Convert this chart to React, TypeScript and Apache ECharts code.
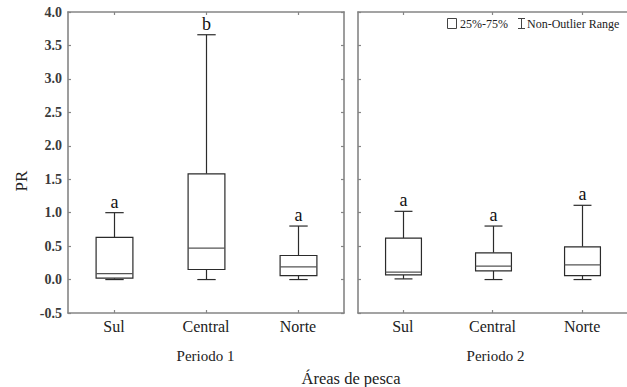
import React, { useEffect, useRef } from "react";
import * as echarts from "echarts";

// Fishing areas shown in each period panel
const categories = ["Sul", "Central", "Norte"];

// Period 1 box statistics: whisker low, Q1, median, Q3, whisker high
const p1Low = [0.0, 0.0, 0.0];
const p1Q1 = [0.02, 0.15, 0.06];
const p1Median = [0.09, 0.47, 0.19];
const p1Q3 = [0.63, 1.58, 0.36];
const p1High = [1.0, 3.66, 0.8];
const p1Letters = ["a", "b", "a"];

// Period 2 box statistics
const p2Low = [0.01, 0.0, 0.0];
const p2Q1 = [0.07, 0.13, 0.06];
const p2Median = [0.11, 0.2, 0.22];
const p2Q3 = [0.62, 0.4, 0.49];
const p2High = [1.02, 0.8, 1.11];
const p2Letters = ["a", "a", "a"];

const yTicks = { min: -0.5, max: 4.0, interval: 0.5 };

const FONT = "'Liberation Serif', 'DejaVu Serif', serif";
const FRAME = "#858585";
const INK = "#2b2b2b";

const buildRows = (lo: number[], q1: number[], med: number[], q3: number[], hi: number[]) =>
  categories.map((_, i) => [i, lo[i], q1[i], med[i], q3[i], hi[i]]);

const makeRenderer = (letters: string[]) => (params: any, api: any) => {
  const idx = api.value(0);
  const lo = api.coord([idx, api.value(1)]);
  const q1 = api.coord([idx, api.value(2)]);
  const med = api.coord([idx, api.value(3)]);
  const q3 = api.coord([idx, api.value(4)]);
  const hi = api.coord([idx, api.value(5)]);
  const band = api.size([1, 0])[0];
  const bw = band * 0.4;
  const cw = band * 0.2;
  const x = Math.round(lo[0]) + 0.5;
  const stroke = { stroke: INK, lineWidth: 1.2, fill: "none" };
  return {
    type: "group",
    children: [
      { type: "line", shape: { x1: x, y1: hi[1], x2: x, y2: q3[1] }, style: stroke },
      { type: "line", shape: { x1: x, y1: q1[1], x2: x, y2: lo[1] }, style: stroke },
      { type: "line", shape: { x1: x - cw / 2, y1: hi[1], x2: x + cw / 2, y2: hi[1] }, style: stroke },
      { type: "line", shape: { x1: x - cw / 2, y1: lo[1], x2: x + cw / 2, y2: lo[1] }, style: stroke },
      {
        type: "rect",
        shape: { x: x - bw / 2, y: q3[1], width: bw, height: q1[1] - q3[1] },
        style: { stroke: INK, lineWidth: 1.2, fill: "#ffffff" },
      },
      {
        type: "line",
        shape: { x1: x - bw / 2, y1: med[1], x2: x + bw / 2, y2: med[1] },
        style: { stroke: "#555555", lineWidth: 1.2 },
      },
      {
        type: "text",
        x: x,
        y: hi[1] - 2,
        style: {
          text: letters[idx],
          fontFamily: FONT,
          fontSize: 18,
          fill: "#111111",
          align: "center",
          verticalAlign: "bottom",
        },
      },
    ],
  };
};

const xAxisFor = (gridIndex: number, position: "top" | "bottom", labels: boolean) => ({
  type: "category",
  gridIndex,
  position,
  data: categories,
  boundaryGap: true,
  axisLine: { show: true, onZero: false, lineStyle: { color: FRAME, width: 1.6 } },
  axisTick: { show: true, inside: true, alignWithLabel: true, length: 3, lineStyle: { color: FRAME, width: 1.2 } },
  axisLabel: {
    show: labels,
    fontFamily: FONT,
    fontSize: 16,
    color: "#222222",
    margin: 5,
  },
  splitLine: { show: false },
});

const yAxisFor = (gridIndex: number, position: "left" | "right", labels: boolean) => ({
  type: "value",
  gridIndex,
  position,
  min: yTicks.min,
  max: yTicks.max,
  interval: yTicks.interval,
  axisLine: { show: true, onZero: false, lineStyle: { color: FRAME, width: 1.6 } },
  axisTick: { show: true, inside: true, length: 3, lineStyle: { color: FRAME, width: 1.2 } },
  axisLabel: {
    show: labels,
    fontFamily: FONT,
    fontSize: 14,
    fontWeight: "bold",
    color: "#3a3a3a",
    margin: 6,
    formatter: (v: number) => v.toFixed(1),
  },
  splitLine: { show: false },
});

export default function App() {
  const ref = useRef<HTMLDivElement>(null);

  useEffect(() => {
    if (!ref.current) return;
    const chart = echarts.init(ref.current, undefined, { renderer: "svg" });
    chart.setOption({
      animation: false,
      backgroundColor: "#ffffff",
      grid: [
        { left: 68, top: 12, width: 276, height: 301 },
        { left: 358, top: 12, width: 276, height: 301 },
      ],
      xAxis: [
        xAxisFor(0, "bottom", true),
        xAxisFor(0, "top", false),
        xAxisFor(1, "bottom", true),
        xAxisFor(1, "top", false),
      ],
      yAxis: [yAxisFor(0, "left", true), yAxisFor(0, "right", false), yAxisFor(1, "left", false)],
      series: [
        {
          type: "custom",
          name: "Periodo 1",
          xAxisIndex: 0,
          yAxisIndex: 0,
          encode: { x: 0, y: [1, 2, 3, 4, 5] },
          renderItem: makeRenderer(p1Letters),
          data: buildRows(p1Low, p1Q1, p1Median, p1Q3, p1High),
          z: 5,
        },
        {
          type: "custom",
          name: "Periodo 2",
          xAxisIndex: 2,
          yAxisIndex: 2,
          encode: { x: 0, y: [1, 2, 3, 4, 5] },
          renderItem: makeRenderer(p2Letters),
          data: buildRows(p2Low, p2Q1, p2Median, p2Q3, p2High),
          z: 5,
        },
      ],
      graphic: [
        {
          type: "text",
          x: 21,
          y: 181,
          rotation: Math.PI / 2,
          style: { text: "PR", fontFamily: FONT, fontSize: 17, fill: "#222222", align: "center", verticalAlign: "middle" },
        },
        {
          type: "text",
          x: 205.5,
          y: 356,
          style: { text: "Periodo 1", fontFamily: FONT, fontSize: 15, fill: "#222222", align: "center", verticalAlign: "middle" },
        },
        {
          type: "text",
          x: 495.5,
          y: 356,
          style: { text: "Periodo 2", fontFamily: FONT, fontSize: 15, fill: "#222222", align: "center", verticalAlign: "middle" },
        },
        {
          type: "text",
          x: 351,
          y: 378,
          style: { text: "Áreas de pesca", fontFamily: FONT, fontSize: 16.5, fill: "#222222", align: "center", verticalAlign: "middle" },
        },
        // legend: box symbol and whisker symbol
        {
          type: "rect",
          shape: { x: 447.5, y: 18.5, width: 9, height: 10 },
          style: { stroke: "#444444", lineWidth: 1, fill: "none" },
        },
        {
          type: "text",
          x: 460,
          y: 24,
          style: { text: "25%-75%", fontFamily: FONT, fontSize: 12, fill: "#222222", align: "left", verticalAlign: "middle" },
        },
        {
          type: "line",
          shape: { x1: 521.5, y1: 18, x2: 521.5, y2: 29 },
          style: { stroke: "#444444", lineWidth: 1 },
        },
        {
          type: "line",
          shape: { x1: 518, y1: 18.5, x2: 525, y2: 18.5 },
          style: { stroke: "#444444", lineWidth: 1 },
        },
        {
          type: "line",
          shape: { x1: 518, y1: 28.5, x2: 525, y2: 28.5 },
          style: { stroke: "#444444", lineWidth: 1 },
        },
        {
          type: "text",
          x: 527,
          y: 24,
          style: { text: "Non-Outlier Range", fontFamily: FONT, fontSize: 12, fill: "#222222", align: "left", verticalAlign: "middle" },
        },
      ],
    });
    return () => chart.dispose();
  }, []);

  return (
    <div
      ref={ref}
      style={{ position: "fixed", left: 0, top: 0, width: 627, height: 387, background: "#ffffff" }}
    />
  );
}
